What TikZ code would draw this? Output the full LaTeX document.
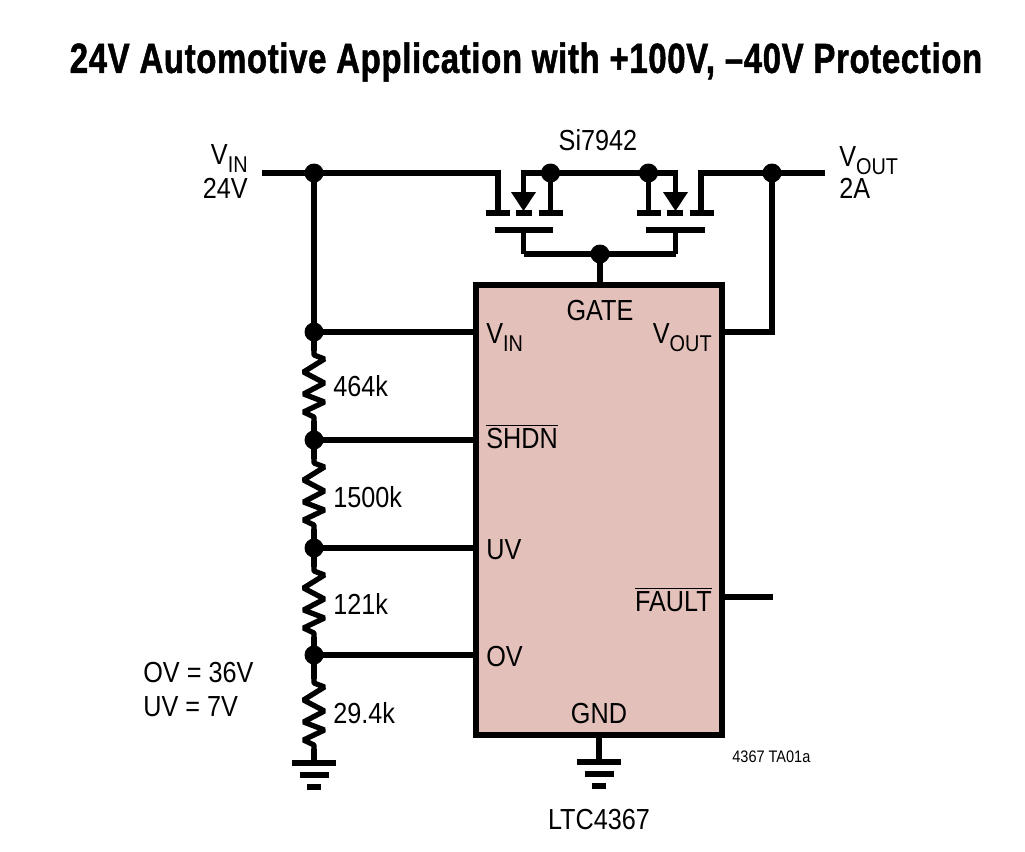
\documentclass[tikz,border=0pt]{standalone}
\usepackage{fontspec}
\setmainfont[FakeStretch=0.87]{Liberation Sans}
\newfontfamily\titlefont[FakeStretch=0.78,FakeBold=1.2,LetterSpace=1.6]{Liberation Sans Bold}
\usetikzlibrary{positioning}
\definecolor{icfill}{HTML}{E4C0BA}
\newcommand{\subtxt}[2]{#1\raisebox{-0.28em}{\fontsize{13}{13}\selectfont #2}}
\newcommand{\barred}[1]{$\overline{\mbox{#1}}$}
\tikzset{
  wire/.style={line width=0.105cm},
  dot/.style={circle,fill=black,inner sep=0pt,outer sep=0pt,minimum size=0.38cm},
  lbl/.style={inner sep=0pt,font=\fontsize{16.5}{19}\selectfont,anchor=base west},
  lblr/.style={lbl,anchor=base east},
  icbox/.style={draw,line width=0.105cm,fill=icfill,outer sep=0pt,minimum width=4.92cm,minimum height=9cm,inner sep=0pt},
  mosfet/.pic={
    \draw[wire] (-25.5,0) coordinate (-drain) -- (-25.5,40);
    \draw[wire] (-38,40) -- (-14,40);
    \draw[wire] (0,0) coordinate (-body) -- (0,22);
    \fill (-12.5,19) -- (12.5,19) -- (0,38) -- cycle;
    \draw[wire] (-7.5,40) -- (8.5,40);
    \draw[wire] (27,0) coordinate (-source) -- (27,40);
    \draw[wire] (15,40) -- (39,40);
    \draw[wire] (-29,57) -- (29.5,57);
    \draw[wire] (0,57) -- (0,81) coordinate (-gate);
  },
  gndsym/.pic={
    \draw[wire] (-22,0) -- (22,0);
    \draw[wire] (-14.5,12) -- (14.5,12);
    \draw[wire] (-7,24) -- (7,24);
  },
  zigzag/.pic={
    \draw[wire,line join=bevel] (0,-4) coordinate (-top) -- (0,0) -- (10.5,4) -- (-10.5,17) -- (10.5,28) -- (-10.5,39) -- (10.5,47) -- (-10.5,57) -- (0,62) -- (0,66) coordinate (-bot);
  }
}
\begin{document}
\begin{tikzpicture}[x=0.02cm,y=-0.02cm]
\useasboundingbox (0,0) rectangle (1025,852);

% Title
\node[inner sep=0pt,font=\fontsize{24}{28}\titlefont] (title) at (526,62) {24V Automotive Application with +100V, –40V Protection};

% Controller
\node[icbox] (ltc) at (599,510) {};

% Input rail and divider
\node[dot] (jin) at (314,173) {};
\node[dot] (ja) at (314,332) {};
\node[dot] (jb) at (314,440) {};
\node[dot] (jc) at (314,548) {};
\node[dot] (jd) at (314,655) {};
\coordinate (vinl) at (262,173);
\coordinate (gndl) at (314,763);
\draw[wire] (vinl) -- (jin.center) -- (ja.center);
\pic (za) at (314,355) {zigzag};
\pic (zb) at (314,463) {zigzag};
\pic (zc) at (314,571) {zigzag};
\pic (zd) at (314,683) {zigzag};
\draw[wire] (ja.center) -- (za-top) (za-bot) -- (jb.center);
\draw[wire] (jb.center) -- (zb-top) (zb-bot) -- (jc.center);
\draw[wire] (jc.center) -- (zc-top) (zc-bot) -- (jd.center);
\draw[wire] (jd.center) -- (zd-top) (zd-bot) -- (gndl);
\pic at (gndl) {gndsym};

% Pins on the left
\foreach \n in {ja,jb,jc,jd} {
  \draw[wire] (\n.center) -- (\n -| ltc.west);
}

% MOSFET pair
\pic (fetl) at (523.5,173) {mosfet};
\pic[xscale=-1] (fetr) at (675.5,173) {mosfet};
\node[dot] (jsl) at (550.5,173) {};
\node[dot] (jsr) at (648.5,173) {};
\node[dot] (jg) at (600,254) {};
\node[dot] (jout) at (772,173) {};
\coordinate (voutr) at (825,173);
\draw[wire,line cap=rect] (jin.center) -- (fetl-drain);
\draw[wire,line cap=rect] (fetl-body) -- (jsl.center) -- (jsr.center) -- (fetr-body);
\draw[wire,line cap=rect] (fetr-drain) -- (jout.center);
\draw[wire] (jout.center) -- (voutr);
\draw[wire,line join=miter] (fetl-gate) -- (jg.center) -- (fetr-gate);
\draw[wire] (jg.center) -- (jg |- ltc.north);

% Pins on the right
\coordinate (pinout) at (772,332);
\draw[wire,line join=miter] (jout.center) -- (pinout) -- (pinout -| ltc.east);
\coordinate (pinfault) at (773,597);
\draw[wire] (pinfault) -- (pinfault -| ltc.east);

% Ground of the controller
\coordinate (gndr) at (599,762);
\draw[wire] (gndr |- ltc.south) -- (gndr);
\pic at (gndr) {gndsym};

% Labels
\node[lbl,anchor=base] (lblfet) at (598,150) {Si7942};
\node[lblr] (lblvin) at (248,164) {\subtxt{V}{IN}};
\node[lblr] (lblvinv) at (248,198) {24V};
\node[lbl] (lblvout) at (839,166) {\subtxt{V}{OUT}};
\node[lbl] (lblamps) at (839,198) {2A};
\node[lbl] (pvin) at (486,343) {\subtxt{V}{IN}};
\node[lbl,anchor=base] (pgate) at (600,320) {GATE};
\node[lblr] (pvout) at (712,343) {\subtxt{V}{OUT}};
\node[lbl] (pshdn) at (486,448) {\barred{SHDN}};
\node[lbl] (puv) at (486,559) {UV};
\node[lbl] (pov) at (486,666) {OV};
\node[lblr] (pfault) at (712,611) {\barred{FAULT}};
\node[lbl,anchor=base] (pgnd) at (599,723) {GND};
\node[lbl] (ra) at (333,396) {464k};
\node[lbl] (rb) at (333,507) {1500k};
\node[lbl] (rc) at (333,614) {121k};
\node[lbl] (rd) at (333,723) {29.4k};
\node[lbl] (lblov) at (143,682) {OV = 36V};
\node[lbl] (lbluv) at (143,716) {UV = 7V};
\node[lbl,anchor=base] (lblpart) at (599,829) {LTC4367};
\node[lbl,font=\fontsize{9.5}{11}\selectfont] (lblref) at (732,762) {4367 TA01a};
\end{tikzpicture}
\end{document}
